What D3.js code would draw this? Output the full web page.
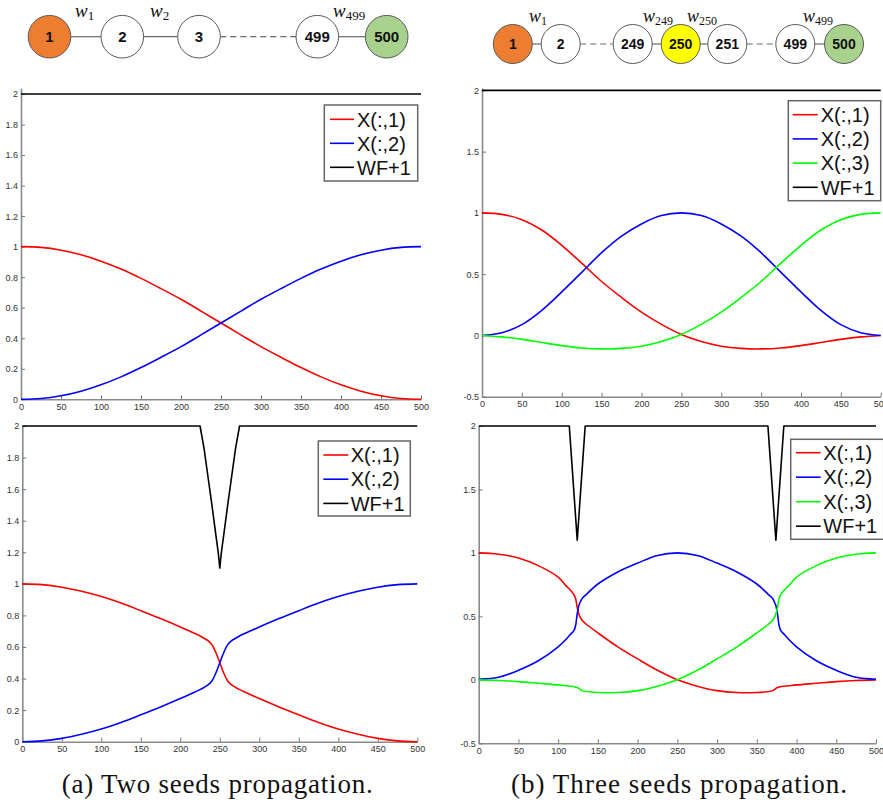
<!DOCTYPE html>
<html><head><meta charset="utf-8">
<script src="https://cdn.jsdelivr.net/npm/d3@7"></script>
<style>body{margin:0;background:#fff} svg{display:block}</style>
</head><body>
<svg id="c" width="883" height="809"></svg>
<script>
// ---------------- DATA ----------------
const xTicks = [0,50,100,150,200,250,300,350,400,450,500];
const yTicksA = [0,0.2,0.4,0.6,0.8,1,1.2,1.4,1.6,1.8,2];
const yTicksB = [-0.5,0,0.5,1,1.5,2];
const legendA = ["X(:,1)","X(:,2)","WF+1"];
const legendB = ["X(:,1)","X(:,2)","X(:,3)","WF+1"];
const captions = ["(a) Two seeds propagation.","(b) Three seeds propagation."];

// (a) top: two seeds, no wall
const xsA1 = [0,25,50,75,100,125,150,175,200,225,250,275,300,325,350,375,400,425,450,475,500];
const a1X1 = [1.000,0.995,0.977,0.947,0.905,0.853,0.792,0.725,0.655,0.578,0.500,0.422,0.345,0.275,0.208,0.147,0.095,0.053,0.023,0.005,0.000];
const a1X2 = [0.000,0.005,0.023,0.053,0.095,0.147,0.208,0.275,0.345,0.422,0.500,0.578,0.655,0.725,0.792,0.853,0.905,0.947,0.977,0.995,1.000];
const a1WFx = [0,500];
const a1WF = [2,2];

// (a) bottom: two seeds, wall at 250
const xsA2 = [0,25,50,75,100,125,150,175,200,215,225,235,240,245,250,255,260,265,275,285,300,325,350,375,400,425,450,475,500];
const a2X1 = [1.000,0.995,0.979,0.953,0.920,0.878,0.830,0.780,0.727,0.693,0.670,0.640,0.615,0.565,0.500,0.435,0.385,0.360,0.330,0.307,0.273,0.220,0.170,0.122,0.080,0.047,0.021,0.005,0.000];
const a2X2 = [0.000,0.005,0.021,0.047,0.080,0.122,0.170,0.220,0.273,0.307,0.330,0.360,0.385,0.435,0.500,0.565,0.615,0.640,0.670,0.693,0.727,0.780,0.830,0.878,0.920,0.953,0.979,0.995,1.000];
const a2WFx = [0,225,230,235,240,245,248,250,252,255,260,265,270,275,500];
const a2WF = [2,2,1.86,1.68,1.50,1.31,1.20,1.10,1.20,1.31,1.50,1.68,1.86,2,2];

// (b) top: three seeds, no wall
const xsB1 = [0,25,50,75,100,125,150,175,200,225,250,275,300,325,350,375,400,425,450,475,500];
const b1X1 = [1.000,0.988,0.945,0.860,0.735,0.590,0.440,0.310,0.190,0.090,0.008,-0.050,-0.088,-0.106,-0.110,-0.102,-0.083,-0.058,-0.032,-0.012,0.000];
const b1X2 = [0.000,0.022,0.088,0.205,0.355,0.515,0.675,0.810,0.910,0.978,1.000,0.978,0.910,0.810,0.675,0.515,0.355,0.205,0.088,0.022,0.000];
const b1X3 = [0.000,-0.012,-0.032,-0.058,-0.083,-0.102,-0.110,-0.106,-0.088,-0.050,0.008,0.090,0.190,0.310,0.440,0.590,0.735,0.860,0.945,0.988,1.000];
const b1WFx = [0,500];
const b1WF = [2,2];

// (b) bottom: three seeds, walls at 125 and 375
const xsB2 = [0,25,50,75,100,110,115,120,122,124,126,128,130,135,150,175,200,225,250,275,300,325,350,365,370,372,374,376,378,380,385,390,400,425,450,475,500];
const b2X1 = [1.00,0.99,0.96,0.90,0.81,0.74,0.71,0.67,0.64,0.57,0.52,0.49,0.47,0.44,0.37,0.26,0.165,0.075,0.00,-0.05,-0.085,-0.10,-0.10,-0.092,-0.085,-0.077,-0.067,-0.060,-0.058,-0.053,-0.050,-0.047,-0.040,-0.027,-0.014,-0.005,0.00];
const b2X2 = [0.005,0.02,0.075,0.15,0.26,0.32,0.355,0.39,0.43,0.52,0.585,0.615,0.64,0.67,0.755,0.85,0.92,0.98,1.00,0.98,0.92,0.85,0.755,0.67,0.64,0.615,0.585,0.52,0.43,0.39,0.355,0.32,0.26,0.15,0.075,0.02,0.005];
const b2X3 = [0.00,-0.005,-0.014,-0.027,-0.040,-0.047,-0.050,-0.053,-0.058,-0.060,-0.067,-0.077,-0.085,-0.092,-0.10,-0.10,-0.085,-0.05,0.00,0.075,0.165,0.26,0.37,0.44,0.47,0.49,0.52,0.57,0.64,0.67,0.71,0.74,0.81,0.90,0.96,0.99,1.00];
const b2WFx = [0,114,119,124,129,134,364,369,374,379,384,500];
const b2WF = [2,2,1.55,1.10,1.55,2,2,1.55,1.10,1.55,2,2];

// chain diagrams
const chainALabels = ["1","2","3","499","500"];
const chainAFills = ["#ED7D31","#fff","#fff","#fff","#A9D18E"];
const chainAEdges = ["solid","solid","dashed","solid"];
const chainAW = ["1","2","499"];
const chainBLabels = ["1","2","249","250","251","499","500"];
const chainBFills = ["#ED7D31","#fff","#fff","#FFFF00","#fff","#fff","#A9D18E"];
const chainBEdges = ["solid","dashed","solid","solid","dashed","solid"];
const chainBW = ["1","249","250","499"];

// ---------------- DRAW ----------------
const svg = d3.select("#c");
const RED="#ff0000", BLUE="#0000ff", GREEN="#00ff00", BLACK="#000000";

function panel(p){
  const g = svg.append("g");
  const x = d3.scaleLinear().domain([0,500]).range([p.x0,p.x1]);
  const y = d3.scaleLinear().domain(p.ydom).range([p.yb,p.yt]);
  const fmt = d => String(+(+d).toFixed(1));
  const xa = g.append("g").attr("transform",`translate(0,${p.yb})`)
    .call(d3.axisBottom(x).tickValues(xTicks).tickSizeInner(-4).tickSizeOuter(0).tickPadding(4).tickFormat(d3.format("d")));
  const ya = g.append("g").attr("transform",`translate(${p.x0},0)`)
    .call(d3.axisLeft(y).tickValues(p.yticks).tickSizeInner(-4).tickSizeOuter(0).tickPadding(3).tickFormat(fmt));
  [xa,ya].forEach(a=>{
    a.select(".domain").attr("stroke","#8a8a8a").attr("stroke-width",1.6);
    a.selectAll(".tick line").attr("stroke","#777").attr("stroke-width",1);
    a.selectAll(".tick text").attr("fill","#333").attr("font-family","Liberation Sans").attr("font-size",9);
  });
  p.series.forEach(s=>{
    const pts = s.xs.map((v,i)=>[v,s.ys[i]]);
    g.append("path").datum(pts)
      .attr("d", d3.line().x(d=>x(d[0])).y(d=>y(d[1])).curve(s.linear?d3.curveLinear:d3.curveCatmullRom.alpha(0.5)))
      .attr("fill","none").attr("stroke",s.color).attr("stroke-width",1.6).attr("stroke-linejoin","round");
  });
  const L = p.legend;
  const lg = g.append("g");
  lg.append("rect").attr("x",L.x).attr("y",L.y).attr("width",L.w).attr("height",L.h)
    .attr("fill","#fff").attr("stroke","#666").attr("stroke-width",1.5);
  L.items.forEach((it,i)=>{
    const cy = L.r0 + i*L.step;
    lg.append("line").attr("x1",L.lx0).attr("x2",L.lx1).attr("y1",cy).attr("y2",cy)
      .attr("stroke",it.color).attr("stroke-width",1.6);
    lg.append("text").attr("x",L.tx).attr("y",cy).attr("dy","0.36em").text(it.label)
      .attr("font-family","Liberation Sans").attr("font-size",20).attr("fill","#111");
  });
}

const colsA = [RED,BLUE,BLACK];
const colsB = [RED,BLUE,GREEN,BLACK];

panel({x0:21,x1:421,yb:399.3,yt:87.9,ydom:[0,2.04],yticks:yTicksA,
  series:[{xs:a1WFx,ys:a1WF,color:BLACK,linear:true},{xs:xsA1,ys:a1X1,color:RED},{xs:xsA1,ys:a1X2,color:BLUE}],
  legend:{x:324.3,y:105,w:93.4,h:76,r0:119.3,step:24,lx0:330,lx1:354,tx:357,items:legendA.map((l,i)=>({label:l,color:colsA[i]}))}});

panel({x0:22.3,x1:417.3,yb:741.7,yt:426,ydom:[0,2],yticks:yTicksA,
  series:[{xs:a2WFx,ys:a2WF,color:BLACK,linear:true},{xs:xsA2,ys:a2X1,color:RED},{xs:xsA2,ys:a2X2,color:BLUE}],
  legend:{x:318.3,y:441,w:92,h:75,r0:455,step:24.2,lx0:323.3,lx1:348.3,tx:350.7,items:legendA.map((l,i)=>({label:l,color:colsA[i]}))}});

panel({x0:482,x1:880.7,yb:396.7,yt:87.9,ydom:[-0.5,2.02],yticks:yTicksB,
  series:[{xs:b1WFx,ys:b1WF,color:BLACK,linear:true},{xs:xsB1,ys:b1X1,color:RED},{xs:xsB1,ys:b1X2,color:BLUE},{xs:xsB1,ys:b1X3,color:GREEN}],
  legend:{x:788.3,y:100.7,w:92.4,h:100,r0:114.7,step:24.2,lx0:792.7,lx1:817.7,tx:820.7,items:legendB.map((l,i)=>({label:l,color:colsB[i]}))}});

panel({x0:478.7,x1:876,yb:743.3,yt:426,ydom:[-0.5,2],yticks:yTicksB,
  series:[{xs:b2WFx,ys:b2WF,color:BLACK,linear:true},{xs:xsB2,ys:b2X1,color:RED},{xs:xsB2,ys:b2X2,color:BLUE},{xs:xsB2,ys:b2X3,color:GREEN}],
  legend:{x:790.7,y:439.3,w:93,h:100,r0:452.7,step:24.5,lx0:796,lx1:820.7,tx:823.3,items:legendB.map((l,i)=>({label:l,color:colsB[i]}))}});

function chain(c){
  const g = svg.append("g");
  for(let i=0;i<c.labels.length-1;i++){
    g.append("line").attr("x1",c.cx[i]+c.r).attr("x2",c.cx[i+1]-c.r).attr("y1",c.cy).attr("y2",c.cy)
      .attr("stroke","#6a6a6a").attr("stroke-width",1.2)
      .attr("stroke-dasharray",c.edges[i]==="dashed"?"6,4":null);
  }
  c.labels.forEach((l,i)=>{
    g.append("circle").attr("cx",c.cx[i]).attr("cy",c.cy).attr("r",c.r)
      .attr("fill",c.fills[i]).attr("stroke","#5a5a5a").attr("stroke-width",1);
    g.append("text").attr("x",c.cx[i]).attr("y",c.cy).attr("dy","0.36em").attr("text-anchor","middle")
      .text(l).attr("font-family","Liberation Sans").attr("font-weight","bold")
      .attr("font-size",c.fs).attr("fill","#111");
  });
  c.w.forEach((s,i)=>{
    const t = g.append("text").attr("x",c.wx[i]).attr("y",c.wy)
      .attr("font-family","Liberation Serif").attr("fill","#111");
    t.append("tspan").text("w").attr("font-style","italic").attr("font-size",c.wfs);
    t.append("tspan").text(s).attr("dy",3).attr("font-size",c.sfs);
  });
}
chain({labels:chainALabels,fills:chainAFills,edges:chainAEdges,w:chainAW,
  cx:[49.5,122.3,199,317.3,386.7],cy:36.7,r:21.3,fs:15,
  wx:[75,150,333],wy:17,wfs:19,sfs:13});
chain({labels:chainBLabels,fills:chainBFills,edges:chainBEdges,w:chainBW,
  cx:[512.8,560.7,632.7,680.7,727.3,795.3,844],cy:44,r:19.5,fs:14,
  wx:[529,643,687,803],wy:22,wfs:18,sfs:12});

[[61.7,311],[511,336]].forEach((c,i)=>{
  svg.append("text").attr("x",c[0]).attr("y",793).text(captions[i])
    .attr("textLength",c[1]).attr("lengthAdjust","spacing")
    .attr("font-family","Liberation Serif").attr("font-size",27).attr("fill","#111");
});
</script>
</body></html>
